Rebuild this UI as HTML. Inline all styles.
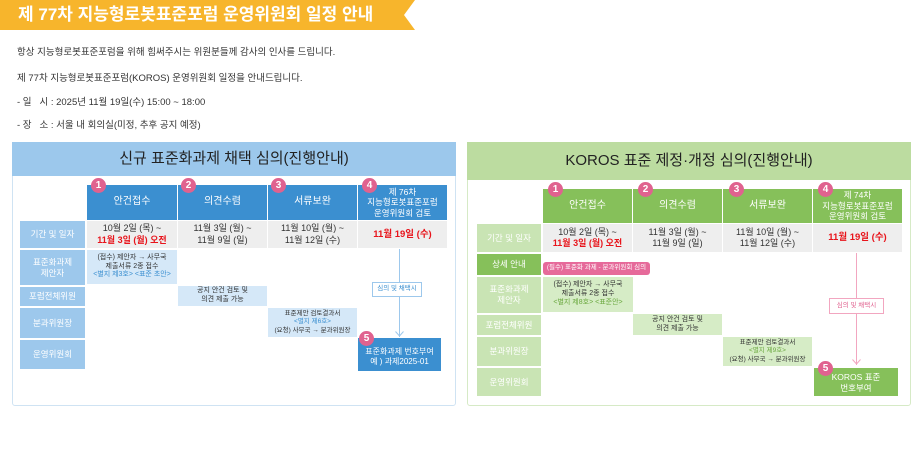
<!DOCTYPE html><html><head><meta charset="utf-8"><style>
*{margin:0;padding:0;box-sizing:border-box}
body{width:924px;height:449px;background:#fff;position:relative;overflow:hidden;font-family:"Liberation Sans","Noto Sans CJK KR",sans-serif;color:#333}
.a{position:absolute;display:flex;align-items:center;justify-content:center;text-align:center;line-height:1.25}
.t{position:absolute;font-size:9.5px;color:#333}
.n{position:absolute;width:15px;height:15px;border-radius:50%;background:#e0628f;color:#fff;font-size:10px;font-weight:bold;display:flex;align-items:center;justify-content:center}
.red{color:#e8141b;font-weight:bold}
</style></head><body>
<svg style="position:absolute;left:0;top:0" width="420" height="32"><polygon points="0,0 415,0 404,15 415,30 0,30" fill="#f7b52c"/></svg>
<div class="a" style="left:18px;top:0;height:30px;color:#fff;font-size:17px;font-weight:bold"><div>제 77차 지능형로봇표준포럼 운영위원회 일정 안내</div></div>
<div class="t" style="left:17px;top:44px">항상 지능형로봇표준포럼을 위해 힘써주시는 위원분들께 감사의 인사를 드립니다.</div>
<div class="t" style="left:17px;top:70px">제 77차 지능형로봇표준포럼(KOROS) 운영위원회 일정을 안내드립니다.</div>
<div class="t" style="left:17px;top:94px">- 일 &nbsp;&nbsp;시 : 2025년 11월 19일(수) 15:00 ~ 18:00</div>
<div class="t" style="left:17px;top:117px">- 장 &nbsp;&nbsp;소 : 서울 내 회의실(미정, 추후 공지 예정)</div>

<!-- LEFT -->
<div style="position:absolute;left:12px;top:142px;width:444px;height:264px;border:1px solid #cfe3f3;border-radius:3px"></div>
<div class="a" style="left:12px;top:142px;width:444px;height:34px;background:#9cc8ec;font-size:15px;color:#222"><div>신규 표준화과제 채택 심의(진행안내)</div></div>
<div class="a" style="left:87px;top:185px;width:90px;height:35px;background:#3b8fd0;color:#fff;font-size:10px"><div>안건접수</div></div>
<div class="a" style="left:178px;top:185px;width:89px;height:35px;background:#3b8fd0;color:#fff;font-size:10px"><div>의견수렴</div></div>
<div class="a" style="left:268px;top:185px;width:89px;height:35px;background:#3b8fd0;color:#fff;font-size:10px"><div>서류보완</div></div>
<div class="a" style="left:358px;top:185px;width:89px;height:35px;background:#3b8fd0;color:#fff;font-size:8.5px"><div>제 76차<br>지능형로봇표준포럼<br>운영위원회 검토</div></div>
<div class="n" style="left:91px;top:178px">1</div><div class="n" style="left:181px;top:178px">2</div><div class="n" style="left:271px;top:178px">3</div><div class="n" style="left:362px;top:178px">4</div>
<div class="a" style="left:87px;top:221px;width:90px;height:27px;background:#eee;font-size:9px"><div>10월 2일 (목) ~<br><span class="red">11월 3일 (월) 오전</span></div></div>
<div class="a" style="left:178px;top:221px;width:89px;height:27px;background:#eee;font-size:9px"><div>11월 3일 (월) ~<br>11월 9일 (일)</div></div>
<div class="a" style="left:268px;top:221px;width:89px;height:27px;background:#eee;font-size:9px"><div>11월 10일 (월) ~<br>11월 12일 (수)</div></div>
<div class="a" style="left:358px;top:221px;width:89px;height:27px;background:#eee;font-size:9.5px"><div class="red">11월 19일 (수)</div></div>
<div class="a" style="left:20px;top:221px;width:65px;height:27px;background:#9dc8ec;color:#fff;font-size:8.5px"><div>기간 및 일자</div></div>
<div class="a" style="left:20px;top:250px;width:65px;height:35px;background:#9dc8ec;color:#fff;font-size:8.5px"><div>표준화과제<br>제안자</div></div>
<div class="a" style="left:20px;top:287px;width:65px;height:19px;background:#9dc8ec;color:#fff;font-size:8.5px"><div>포럼전체위원</div></div>
<div class="a" style="left:20px;top:308px;width:65px;height:30px;background:#9dc8ec;color:#fff;font-size:8.5px"><div>분과위원장</div></div>
<div class="a" style="left:20px;top:340px;width:65px;height:29px;background:#9dc8ec;color:#fff;font-size:8.5px"><div>운영위원회</div></div>
<div class="a" style="left:87px;top:250px;width:90px;height:34px;background:#d5e8f8;font-size:7px"><div>(접수) 제안자 → 사무국<br>제출서류 2종 접수<br><span style="color:#3b8fd0">&lt;별지 제3호&gt; &lt;표준 초안&gt;</span></div></div>
<div class="a" style="left:178px;top:286px;width:89px;height:20px;background:#d5e8f8;font-size:7px"><div>공지 안건 검토 및<br>의견 제출 가능</div></div>
<div class="a" style="left:268px;top:308px;width:89px;height:29px;background:#d5e8f8;font-size:6.5px"><div>표준제안 검토결과서<br><span style="color:#3b8fd0">&lt;별지 제6호&gt;</span><br>(요청) 사무국 → 분과위원장</div></div>
<div style="position:absolute;left:399px;top:249px;width:1px;height:88px;background:#9dc8ec"></div>
<svg style="position:absolute;left:395px;top:331px" width="9" height="6"><polyline points="0.5,0.5 4.5,5 8.5,0.5" fill="none" stroke="#9dc8ec"/></svg>
<div class="a" style="left:372px;top:282px;width:50px;height:15px;background:#fff;border:1px solid #9dc8ec;font-size:6.5px;color:#3b8fd0"><div>심의 및 채택시</div></div>
<div class="a" style="left:358px;top:338px;width:83px;height:33px;background:#3b8fd0;color:#fff;font-size:8px;padding-top:4px"><div>표준화과제 번호부여<br>예 ) 과제2025-01</div></div>
<div class="n" style="left:359px;top:331px">5</div>

<!-- RIGHT -->
<div style="position:absolute;left:467px;top:142px;width:444px;height:264px;border:1px solid #d6eac6;border-radius:3px"></div>
<div class="a" style="left:467px;top:142px;width:444px;height:38px;background:#bcdca0;font-size:15px;color:#222"><div>KOROS 표준 제정·개정 심의(진행안내)</div></div>
<div class="a" style="left:543px;top:189px;width:89px;height:34px;background:#86c05a;color:#fff;font-size:10px"><div>안건접수</div></div>
<div class="a" style="left:633px;top:189px;width:89px;height:34px;background:#86c05a;color:#fff;font-size:10px"><div>의견수렴</div></div>
<div class="a" style="left:723px;top:189px;width:89px;height:34px;background:#86c05a;color:#fff;font-size:10px"><div>서류보완</div></div>
<div class="a" style="left:813px;top:189px;width:89px;height:34px;background:#86c05a;color:#fff;font-size:8.5px"><div>제 74차<br>지능형로봇표준포럼<br>운영위원회 검토</div></div>
<div class="n" style="left:548px;top:182px">1</div><div class="n" style="left:638px;top:182px">2</div><div class="n" style="left:729px;top:182px">3</div><div class="n" style="left:818px;top:182px">4</div>
<div class="a" style="left:543px;top:224px;width:89px;height:28px;background:#eee;font-size:9px"><div>10월 2일 (목) ~<br><span class="red">11월 3일 (월) 오전</span></div></div>
<div class="a" style="left:633px;top:224px;width:89px;height:28px;background:#eee;font-size:9px"><div>11월 3일 (월) ~<br>11월 9일 (일)</div></div>
<div class="a" style="left:723px;top:224px;width:89px;height:28px;background:#eee;font-size:9px"><div>11월 10일 (월) ~<br>11월 12일 (수)</div></div>
<div class="a" style="left:813px;top:224px;width:89px;height:28px;background:#eee;font-size:9.5px"><div class="red">11월 19일 (수)</div></div>
<div class="a" style="left:477px;top:224px;width:64px;height:28px;background:#c9e4b4;color:#fff;font-size:8.5px"><div>기간 및 일자</div></div>
<div class="a" style="left:477px;top:254px;width:64px;height:21px;background:#86c05a;color:#fff;font-size:8.5px"><div>상세 안내</div></div>
<div class="a" style="left:477px;top:277px;width:64px;height:36px;background:#c9e4b4;color:#fff;font-size:8.5px"><div>표준화과제<br>제안자</div></div>
<div class="a" style="left:477px;top:315px;width:64px;height:20px;background:#c9e4b4;color:#fff;font-size:8.5px"><div>포럼전체위원</div></div>
<div class="a" style="left:477px;top:337px;width:64px;height:29px;background:#c9e4b4;color:#fff;font-size:8.5px"><div>분과위원장</div></div>
<div class="a" style="left:477px;top:368px;width:64px;height:28px;background:#c9e4b4;color:#fff;font-size:8.5px"><div>운영위원회</div></div>
<div class="a" style="left:543px;top:262px;width:107px;height:13px;background:#e66a9a;border-radius:3px;color:#fff;font-size:6.5px"><div>(필수) 표준화 과제 - 분과위원회 심의</div></div>
<div class="a" style="left:543px;top:277px;width:90px;height:35px;background:#d6ecc6;font-size:7px"><div>(접수) 제안자 → 사무국<br>제출서류 2종 접수<br><span style="color:#6aa83e">&lt;별지 제8호&gt; &lt;표준안&gt;</span></div></div>
<div class="a" style="left:633px;top:314px;width:89px;height:21px;background:#d6ecc6;font-size:7px"><div>공지 안건 검토 및<br>의견 제출 가능</div></div>
<div class="a" style="left:723px;top:337px;width:89px;height:29px;background:#d6ecc6;font-size:6.5px"><div>표준제안 검토결과서<br><span style="color:#6aa83e">&lt;별지 제9호&gt;</span><br>(요청) 사무국 → 분과위원장</div></div>
<div style="position:absolute;left:856px;top:253px;width:1px;height:112px;background:#f2a6c0"></div>
<svg style="position:absolute;left:852px;top:359px" width="9" height="6"><polyline points="0.5,0.5 4.5,5 8.5,0.5" fill="none" stroke="#f2a6c0"/></svg>
<div class="a" style="left:829px;top:298px;width:55px;height:16px;background:#fff;border:1px solid #f2a6c0;font-size:6.5px;color:#e0628f"><div>심의 및 채택시</div></div>
<div class="a" style="left:814px;top:368px;width:84px;height:28px;background:#86c05a;color:#fff;font-size:8.5px;padding-top:2px"><div>KOROS 표준<br>번호부여</div></div>
<div class="n" style="left:818px;top:361px">5</div>
</body></html>
